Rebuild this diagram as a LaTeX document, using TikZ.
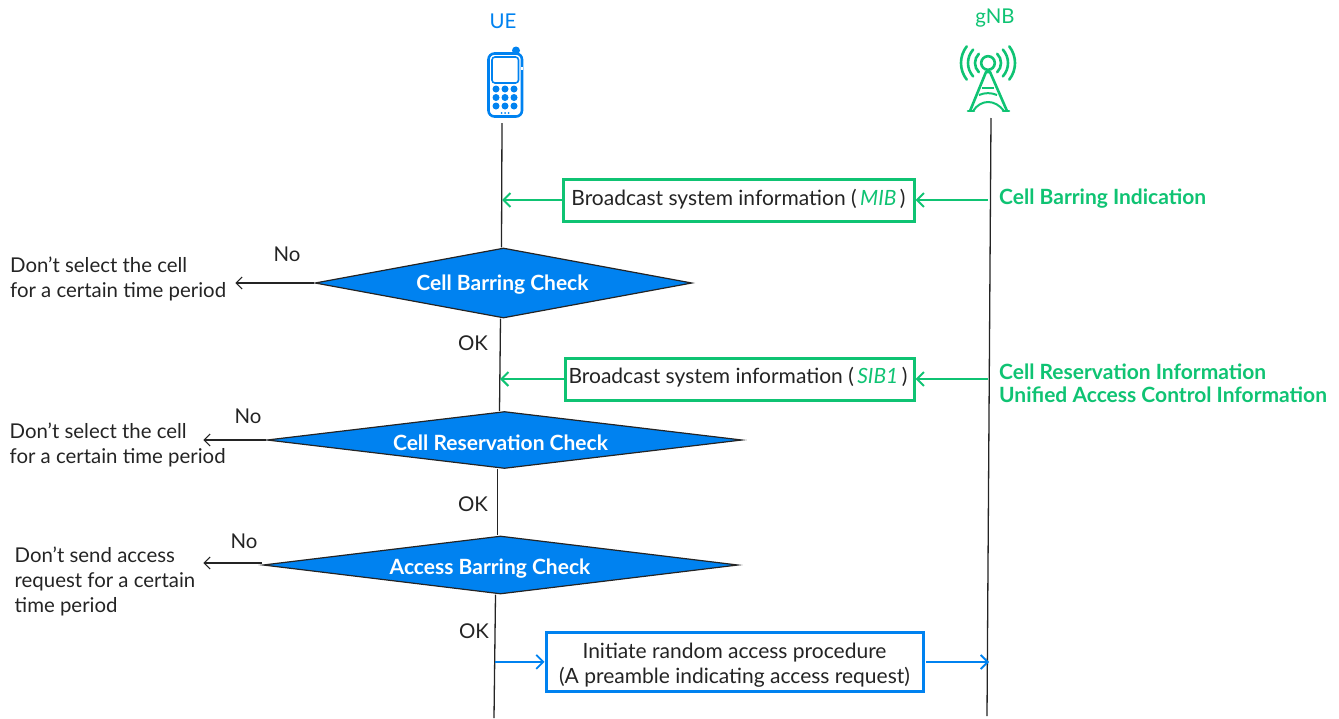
\documentclass[tikz,border=0pt]{standalone}
\usepackage{fontspec}
\setmainfont{Lato}
\usepackage{xcolor}
\usepackage{tikz}
\usetikzlibrary{shapes.geometric,arrows.meta,positioning}
\definecolor{ueblue}{HTML}{0082F0}
\definecolor{gnbgreen}{HTML}{0FC373}
\definecolor{inktext}{HTML}{242424}

\begin{document}
\begin{tikzpicture}[
    x=1pt, y=-1pt,
    every node/.style={font=\fontsize{20.4}{25}\selectfont, text=inktext},
    check/.style={diamond, draw=inktext, line width=1.2pt, fill=ueblue, inner sep=0pt, text=white, font=\fontsize{21}{25}\selectfont\bfseries},
    infobox/.style={rectangle, draw=gnbgreen, line width=3pt, fill=white, inner sep=0pt, align=center, font=\fontsize{21}{25}\selectfont},
    accessbox/.style={rectangle, draw=ueblue, line width=3pt, fill=white, inner sep=0pt, align=center, font=\fontsize{21}{25}\selectfont},
    note/.style={align=left, inner sep=0pt, anchor=west},
    greennote/.style={note, text=gnbgreen, font=\fontsize{21}{25}\selectfont\bfseries},
    lifeline/.style={draw=inktext, line width=1.3pt},
    noarrow/.style={-{Straight Barb[length=6pt,width=12pt]}, draw=inktext, line width=1.1pt},
    greenarrow/.style={-{Straight Barb[length=7pt,width=14pt]}, draw=gnbgreen, line width=2pt},
    bluearrow/.style={-{Straight Barb[length=7pt,width=14pt]}, draw=ueblue, line width=1.8pt}
]
\useasboundingbox (0,0) rectangle (1339,718);

% lifeline ends
\coordinate (uetop) at (502,123);
\coordinate (ueend) at (494,718);
\coordinate (gnbtop) at (991,118);
\coordinate (gnbend) at (987,716);

% checks
\node[check, minimum width=377pt, minimum height=70pt, aspect=5.39] (cellbar) at (503.5,283) {\raisebox{-7pt}[0pt][0pt]{Cell Barring Check\kern2pt}};
\node[check, minimum width=475pt, minimum height=57pt, aspect=8.33] (cellres) at (504.5,440) {\raisebox{-10pt}[0pt][0pt]{Cell Reservation Check\kern8pt}};
\node[check, minimum width=475pt, minimum height=58pt, aspect=8.19] (accbar) at (500.5,565) {\raisebox{-9pt}[0pt][0pt]{Access Barring Check\kern21pt}};

% boxes
\node[infobox, minimum width=351pt, minimum height=42pt, text height=15pt, text depth=5pt] (mib) at (738.5,200) {Broadcast system information (\,\textcolor{gnbgreen}{\textit{MIB}}\,)};
\node[infobox, minimum width=349pt, minimum height=42pt, text height=13pt, text depth=5pt] (sib) at (739.5,379) {\kern-3pt Broadcast system information (\,\textcolor{gnbgreen}{\textit{SIB1}}\,)};
\node[accessbox, minimum width=377pt, minimum height=59pt] (rach) at (734.5,661.5) {\rule{0pt}{22pt}Initiate random access procedure\\(A preamble indicating access request)};

% lifelines
\draw[lifeline] (uetop) -- ([xshift=-2pt]cellbar.north);
\draw[lifeline] ([xshift=-3pt]cellbar.south) -- ([xshift=-5pt]cellres.north);
\draw[lifeline] ([xshift=-7pt]cellres.south) -- ([xshift=-3pt]accbar.north);
\draw[lifeline] ([xshift=-5pt]accbar.south) -- (ueend);
\draw[lifeline] (gnbtop) -- (gnbend);

% free ends of the messages
\coordinate (mibue) at (502,200);
\coordinate (mibgnb) at (988,200);
\coordinate (sibue) at (500,379);
\coordinate (sibgnb) at (988,379);
\coordinate (rachue) at (495,662);
\coordinate (rachout) at (926,662);
\coordinate (rachgnb) at (989,662);

\draw[greenarrow] (mib) -- (mibue);
\draw[greenarrow] (mibgnb) -- (mib);
\draw[greenarrow] (sib) -- (sibue);
\draw[greenarrow] (sibgnb) -- (sib);
\draw[bluearrow] (rachue) -- (rach);
\draw[bluearrow] (rachout) -- (rachgnb);

% refused branches
\coordinate[left=79pt of cellbar.west] (cellbarno);
\coordinate[left=63pt of cellres.west] (cellresno);
\coordinate[left=59pt of accbar.west] (accbarno);
\draw[noarrow] (cellbar) -- (cellbarno);
\draw[noarrow] (cellres) -- (cellresno);
\draw[noarrow] ([yshift=2pt]accbar.west) -- ([yshift=2pt]accbarno);

\node[inner sep=0pt] (no1) at (287,254) {No};
\node[inner sep=0pt] (no2) at (248,416) {No};
\node[inner sep=0pt] (no3) at (244,541) {No};
\node[note] (txt1) at (10,278.5) {Don’t select the cell\\for a certain time period};
\node[note] (txt2) at (9.5,445) {Don’t select the cell\\for a certain time period};
\node[note] (txt3) at (14.5,581) {Don’t send access\\request for a certain\\time period};

\node[inner sep=0pt] (ok1) at (473,343) {OK};
\node[inner sep=0pt] (ok2) at (473,504) {OK};
\node[inner sep=0pt] (ok3) at (474,631) {OK};

\node[greennote] (barind) at (999,199) {Cell Barring Indication};
\node[greennote] (resinfo) at (999,372) {Cell Reservation Information};
\node[greennote, below=7pt of resinfo.south west, anchor=north west] (uacinfo) {Unified Access Control Information};

% titles
\node[inner sep=0pt, text=ueblue] (uelabel) at (503,21) {UE};
\node[inner sep=0pt, text=gnbgreen] (gnblabel) at (995,18) {gNB};

% phone
\fill[ueblue] (516,50.5) circle (4);
\draw[ueblue, line width=2.6pt, rounded corners=6pt] (488.5,53.5) rectangle (522,116.5);
\draw[white, line width=2pt] (522,67) -- (522,70);
\draw[ueblue, line width=1.6pt, rounded corners=3pt] (492,57) rectangle (518.5,83);
\foreach \kx in {496,505,514}
  \foreach \ky in {89,97.5,106}
    \fill[ueblue] (\kx,\ky) circle (3.5);
\foreach \kx in {501.5,505,508.5}
  \fill[ueblue] (\kx,113) circle (1);

% tower
\draw[gnbgreen, line width=2.6pt] (988,63) circle (6.8);
\foreach \rr/\aa in {13/45, 20/42, 27/38} {
  \draw[gnbgreen, line width=2.6pt, line cap=round] (988,63) ++(180-\aa:\rr) arc[start angle=180-\aa, end angle=180+\aa, radius=\rr];
  \draw[gnbgreen, line width=2.6pt, line cap=round] (988,63) ++(-\aa:\rr) arc[start angle=-\aa, end angle=\aa, radius=\rr];
}
\draw[gnbgreen, line width=2.6pt, line join=round] (970,111) -- (986,72) -- (990,72) -- (1007,111);
\draw[gnbgreen, line width=2pt] (982,88) -- (994,88);
\draw[gnbgreen, line width=2pt] (979,95) .. controls (985,92.5) and (991,92.5) .. (997,95);
\draw[gnbgreen, line width=2pt] (973,111) .. controls (981,99) and (995,99) .. (1004,111);
\draw[gnbgreen, line width=2.6pt, line cap=round] (968,111) -- (974,111);
\draw[gnbgreen, line width=2.6pt, line cap=round] (1003,111) -- (1009,111);
\end{tikzpicture}
\end{document}
